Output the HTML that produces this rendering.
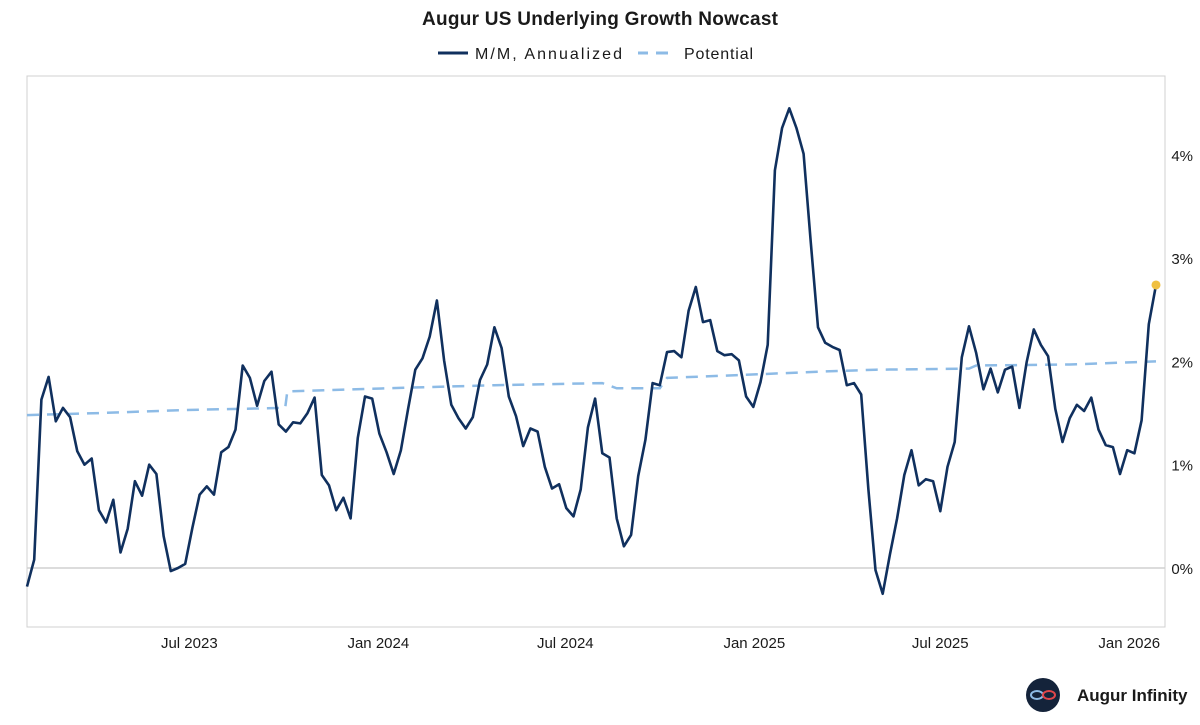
<!DOCTYPE html>
<html><head><meta charset="utf-8">
<style>
body{margin:0;background:#fff;font-family:"Liberation Sans",sans-serif;}
svg{display:block}
</style></head>
<body>
<svg id="chart" width="1200" height="725" viewBox="0 0 1200 725" xmlns="http://www.w3.org/2000/svg">
<text x="600" y="25" text-anchor="middle" font-size="19" font-weight="bold" fill="#1a1a1a" textLength="356">Augur US Underlying Growth Nowcast</text>
<g>
<g><line x1="438" y1="53" x2="468" y2="53" stroke="#10305e" stroke-width="3"/><text x="475" y="59" font-size="16" fill="#1a1a1a" textLength="147">M/M, Annualized</text></g>
<g><line x1="638" y1="53" x2="648" y2="53" stroke="#8dbbe6" stroke-width="3"/><line x1="656" y1="53" x2="668" y2="53" stroke="#8dbbe6" stroke-width="3"/><text x="684" y="59" font-size="16" fill="#1a1a1a" textLength="69">Potential</text></g>
</g>
<rect x="27" y="76" width="1138" height="551" fill="none" stroke="#d0d0d0" stroke-width="1"/>
<g id="yaxis"></g>
<g id="xaxis"></g>
<g id="series"></g>
<g>
<circle cx="1043" cy="695" r="17" fill="#14233a"/>
<ellipse cx="1037" cy="695" rx="6" ry="4" fill="none" stroke="#8dbbe6" stroke-width="2"/>
<ellipse cx="1049" cy="695" rx="6" ry="4" fill="none" stroke="#e0464a" stroke-width="2"/>
<text x="1077" y="701" font-size="17" font-weight="bold" fill="#1a1a1a">Augur Infinity</text>
</g>
</svg>
<script>
const startDate = "2023-01-24";
const growthValues = [-0.18,0.08,1.63,1.85,1.42,1.55,1.46,1.13,1.00,1.06,
0.56,0.44,0.66,0.15,0.38,0.84,0.70,1.00,0.91,0.31,
-0.03,0.00,0.04,0.39,0.71,0.79,0.71,1.12,1.17,1.34,
1.96,1.84,1.57,1.81,1.90,1.39,1.32,1.41,1.40,1.50,
1.65,0.90,0.80,0.56,0.68,0.48,1.26,1.66,1.64,1.30,
1.12,0.91,1.14,1.54,1.92,2.03,2.24,2.59,2.01,1.58,
1.45,1.35,1.46,1.82,1.97,2.33,2.13,1.66,1.47,1.18,
1.35,1.32,0.98,0.77,0.81,0.58,0.50,0.76,1.36,1.64,
1.11,1.07,0.48,0.21,0.32,0.89,1.24,1.79,1.77,2.09,
2.10,2.04,2.49,2.72,2.38,2.40,2.10,2.06,2.07,2.01,
1.66,1.56,1.80,2.16,3.85,4.26,4.45,4.26,4.01,3.15,
2.33,2.18,2.14,2.11,1.77,1.79,1.68,0.76,-0.02,-0.25,
0.13,0.48,0.90,1.14,0.80,0.86,0.84,0.55,0.98,1.22,
2.04,2.34,2.08,1.73,1.93,1.70,1.92,1.95,1.55,1.99,
2.31,2.16,2.05,1.54,1.22,1.45,1.58,1.52,1.65,1.34,
1.19,1.17,0.91,1.14,1.11,1.43,2.36,2.74];
const potentialWeeks = [0,10,22,35.9,36.2,50,65,80,82,88,89,100,110,118,131,132,145,157];
const potentialValues = [1.48,1.50,1.53,1.55,1.71,1.74,1.77,1.79,1.74,1.74,1.84,1.87,1.90,1.92,1.93,1.96,1.97,2.00];
const yTicks = [0,1,2,3,4];
const xTickDates = ["2023-07-01","2024-01-01","2024-07-01","2025-01-01","2025-07-01","2026-01-01"];
const xTickLabels = ["Jul 2023","Jan 2024","Jul 2024","Jan 2025","Jul 2025","Jan 2026"];

const NS="http://www.w3.org/2000/svg";
const DAY=86400000, PXDAY=1.0273, X0=27;
const t0=Date.parse(startDate+"T00:00:00Z");
function xDate(s){return X0+(Date.parse(s+"T00:00:00Z")-t0)/DAY*PXDAY;}
function xWeek(k){return X0+k*7*PXDAY;}
function y(v){return 568-v*103.3;}
function mk(tag,attrs,parent){const e=document.createElementNS(NS,tag);for(const k in attrs)e.setAttribute(k,attrs[k]);parent.appendChild(e);return e;}

const ya=document.getElementById('yaxis');
yTicks.forEach(v=>{
  if(v===0){const g=mk('line',{x1:27,x2:1165,y1:y(0),y2:y(0),stroke:'#d0d0d0','stroke-width':1.5},ya);
  
  }
  const t=mk('text',{x:1193,y:y(v)+6,'text-anchor':'end','font-size':15,fill:'#1a1a1a'},ya);
  t.textContent=v+'%';
  
  
});
const xa=document.getElementById('xaxis');
xTickDates.forEach((d,i)=>{
  const t=mk('text',{x:xDate(d),y:648,'text-anchor':'middle','font-size':15,fill:'#1a1a1a'},xa);
  t.textContent=xTickLabels[i];
  
  
});
const sl=document.getElementById('series');
const pp=mk('polyline',{points:potentialWeeks.map((k,i)=>xWeek(k).toFixed(1)+','+y(potentialValues[i]).toFixed(1)).join(' '),fill:'none',stroke:'#8dbbe6','stroke-width':2.5,'stroke-dasharray':'12,8'},sl);


const gl=mk('polyline',{points:growthValues.map((v,k)=>xWeek(k).toFixed(1)+','+y(v).toFixed(1)).join(' '),fill:'none',stroke:'#10305e','stroke-width':2.6,'stroke-linejoin':'round'},sl);


const last=growthValues.length-1;
const dot=mk('circle',{cx:xWeek(last),cy:y(growthValues[last]),r:4.5,fill:'#f0c040'},sl);


</script>
</body></html>
